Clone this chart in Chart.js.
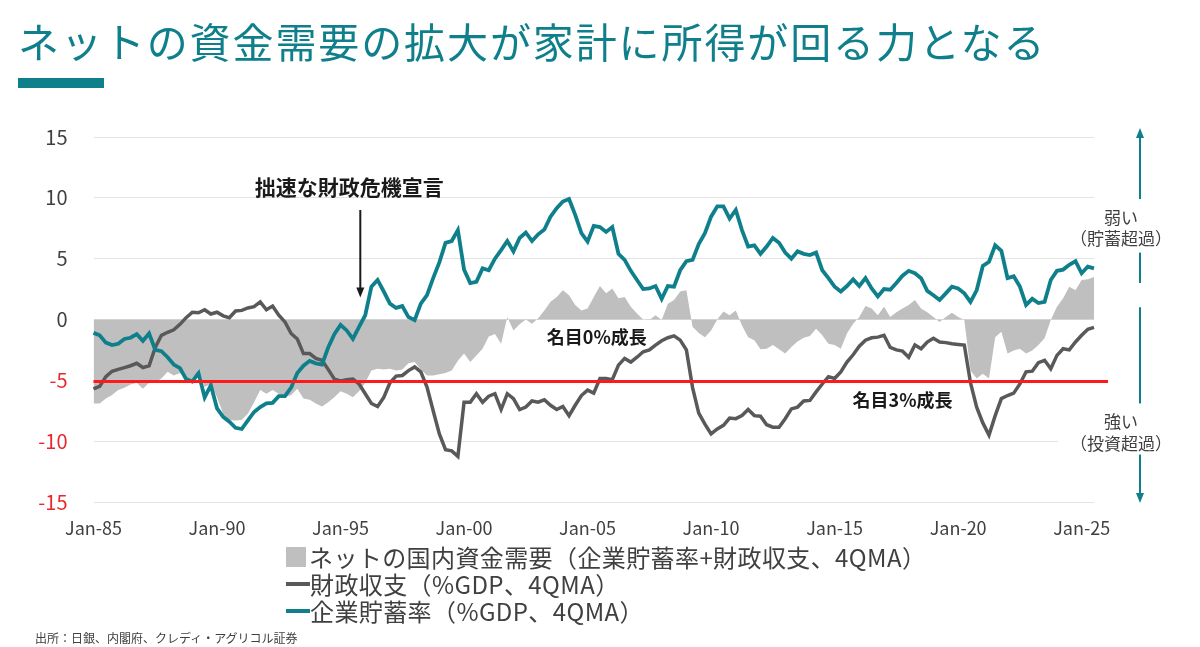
<!DOCTYPE html>
<html lang="ja">
<head>
<meta charset="utf-8">
<title>ネットの資金需要</title>
<script src="https://cdn.jsdelivr.net/npm/chart.js@4.4.1/dist/chart.umd.min.js"></script>
<style>
  body { margin: 0; background: #fff; font-family: "Noto Sans CJK JP", "Noto Sans", sans-serif; }
  #wrap { position: relative; width: 1200px; height: 647px; overflow: hidden; }
  #chart { position: absolute; left: 0; top: 0; }
  #title { position: absolute; left: 18px; top: 20px; font-size: 41px; line-height: 41px;
           letter-spacing: 1.9px; color: #0f808b; white-space: nowrap; }
  #bar { position: absolute; left: 18px; top: 78px; width: 86px; height: 10px; background: #0f808b; }
  #legend { position: absolute; left: 286px; top: 543px; font-size: 24px; line-height: 27px;
            letter-spacing: 0.4px; color: #404040; }
  #legend div { display: flex; align-items: center; white-space: nowrap; }
  #legend .box { width: 20px; height: 20px; margin-right: 3px; }
  #legend .ln { width: 24px; height: 4px; margin-right: 0px; }
  #source { position: absolute; left: 35px; top: 630px; font-size: 12px; line-height: 16px; color: #404040; }
</style>
</head>
<body>
<div id="wrap">
  <canvas id="chart" width="1200" height="647"></canvas>
  <div id="title">ネットの資金需要の拡大が家計に所得が回る力となる</div>
  <div id="bar"></div>
  <div id="legend"></div>
  <div id="source">出所：日銀、内閣府、クレディ・アグリコル証券</div>
</div>
<script>
// 四半期データ 1985Q1 - 2025Q3
// ネットの国内資金需要（企業貯蓄率+財政収支、4QMA）
const netDemand = [
  -6.9, -6.9, -6.5, -6.2, -5.8, -5.6, -5.35, -5.2, -5.7, -5.2,
  -5.15, -4.85, -4.3, -4.6, -4.4, -4.9, -5.3, -4.05, -5.55, -5.3,
  -6.4, -7.75, -8.25, -8.3, -8.25, -7.75, -6.8, -5.8, -6.1, -5.8,
  -6.1, -6.4, -6.2, -5.7, -6.5, -6.6, -6.9, -7.15, -6.8, -6.4,
  -5.9, -6.1, -6.4, -5.9, -5.2, -4.2, -4.05, -4.1, -4.05, -4.2,
  -4.1, -3.6, -3.5, -4.1, -4.6, -4.6, -4.5, -4.4, -4.2, -3.4,
  -2.8, -3.5, -2.95, -2.4, -1.4, -1.2, -2.0, 0.2, -0.9, -0.4,
  0, -0.35, 0.1, 0.75, 1.45, 1.85, 2.4, 2.0, 1.2, 0.75,
  0.9, 1.85, 2.75, 2.15, 2.55, 1.75, 1.85, 1.05, 0.5, 0,
  -0.05, 0.35, -0.05, 1.3, 1.6, 2.3, 2.4, -0.6, -1.1, -1.45,
  -0.9, 0, 0.65, 0.35, 0.75, -0.5, -1.45, -1.7, -2.45, -2.4,
  -2.1, -2.45, -2.8, -2.25, -1.8, -1.5, -1.35, -0.75, -1.3, -2.0,
  -2.1, -2.4, -1.15, -0.35, 0.2, 1.1, 0.9, 0.35, 1.05, 0.2,
  0.6, 0.9, 1.2, 1.6, 0.9, 0.6, 0.2, -0.2, 0.2, 0.55,
  0.2, -0.05, -4.2, -4.85, -4.45, -4.85, -1.45, -1.0, -2.8, -2.55,
  -2.4, -2.8, -2.55, -2.1, -1.55, -0.05, 1.05, 1.75, 2.7, 2.4,
  3.25, 3.3, 3.5
];
// 財政収支（%GDP、4QMA）
const fiscalBalance = [
  -5.7, -5.5, -4.7, -4.25, -4.1, -3.95, -3.8, -3.6, -3.95, -3.8,
  -2.3, -1.3, -1.05, -0.85, -0.4, 0.15, 0.6, 0.55, 0.8, 0.45,
  0.6, 0.3, 0.15, 0.7, 0.75, 0.95, 1.05, 1.45, 0.8, 1.1,
  0.35, -0.2, -1.15, -1.6, -2.8, -2.8, -3.2, -3.35, -4.1, -4.9,
  -5.05, -4.95, -4.9, -5.3, -6.1, -6.9, -7.15, -6.4, -5.2, -4.65,
  -4.6, -4.2, -3.9, -4.3, -5.55, -7.5, -9.4, -10.7, -10.8, -11.25,
  -6.8, -6.8, -6.1, -6.8, -6.3, -6.1, -7.4, -6.1, -6.5, -7.4,
  -7.2, -6.7, -6.8, -6.6, -7.05, -7.4, -7.15, -7.9, -7.05, -6.25,
  -5.8, -6.05, -4.85, -4.85, -4.95, -3.75, -3.2, -3.5, -3.1, -2.65,
  -2.5, -2.1, -1.75, -1.5, -1.35, -1.7, -2.5, -5.6, -7.7, -8.6,
  -9.4, -9.0, -8.7, -8.1, -8.15, -7.9, -7.4, -7.9, -7.95, -8.65,
  -8.85, -8.85, -8.15, -7.35, -7.2, -6.7, -6.65, -5.95, -5.3, -4.7,
  -4.85, -4.3, -3.5, -2.9, -2.2, -1.7, -1.5, -1.45, -1.3, -2.3,
  -2.5, -2.6, -3.1, -2.1, -2.4, -1.85, -1.55, -1.85, -1.9, -2.0,
  -2.05, -2.1, -5.2, -7.2, -8.5, -9.5, -7.9, -6.5, -6.25, -6.05,
  -5.3, -4.3, -4.25, -3.55, -3.35, -4.05, -2.95, -2.4, -2.5, -1.85,
  -1.3, -0.8, -0.65
];
// 企業貯蓄率（%GDP、4QMA）
const corpSavings = [
  -1.1, -1.3, -1.9, -2.1, -2.0, -1.6, -1.5, -1.2, -1.75, -1.15,
  -2.5, -2.6, -3.1, -3.7, -4.0, -4.9, -5.1, -4.4, -6.4, -5.4,
  -7.3, -8.0, -8.4, -8.9, -9.0, -8.3, -7.6, -7.2, -6.9, -6.85,
  -6.3, -6.3, -5.6, -4.4, -3.8, -3.4, -3.6, -3.7, -2.3, -1.2,
  -0.45, -0.9, -1.6, -0.6, 0.35, 2.7, 3.25, 2.3, 1.3, 0.95,
  1.1, 0.2, -0.05, 1.3, 2.0, 3.4, 4.7, 6.3, 6.45, 7.35,
  4.1, 3.0, 3.1, 4.2, 4.05, 5.0, 5.7, 6.45, 5.6, 6.7,
  7.15, 6.45, 7.0, 7.4, 8.45, 9.15, 9.7, 9.9, 8.6, 7.1,
  6.4, 7.7, 7.6, 7.2, 7.6, 5.4, 4.9, 4.0, 3.25, 2.5,
  2.55, 2.75, 1.7, 2.75, 2.7, 4.05, 4.8, 4.9, 6.2, 7.1,
  8.45, 9.3, 9.3, 8.3, 9.0, 7.35, 6.0, 6.1, 5.4, 6.0,
  6.7, 6.3, 5.5, 5.0, 5.6, 5.4, 5.3, 5.5, 4.05, 3.4,
  2.7, 2.3, 2.75, 3.3, 2.75, 3.4, 2.55, 1.9, 2.5, 2.45,
  3.0, 3.6, 4.0, 3.8, 3.4, 2.35, 2.0, 1.6, 2.15, 2.7,
  2.55, 2.15, 1.45, 2.4, 4.4, 4.75, 6.1, 5.65, 3.4, 3.55,
  2.7, 1.2, 1.7, 1.35, 1.45, 3.25, 4.0, 4.1, 4.5, 4.8,
  3.8, 4.35, 4.2
];

// 軸ラベル
const xTickLabels = ['Jan-85', 'Jan-90', 'Jan-95', 'Jan-00', 'Jan-05', 'Jan-10', 'Jan-15', 'Jan-20', 'Jan-25'];
const yMin = -15, yMax = 15, yStep = 5;
const nominal3Line = -5.1; // 名目3%成長ライン

// 四半期カテゴリ
const monthNames = ['Jan', 'Apr', 'Jul', 'Oct'];
const quarters = [];
for (let i = 0; i < corpSavings.length; i++) {
  const yr = 1985 + Math.floor(i / 4);
  quarters.push(monthNames[i % 4] + '-' + String(yr % 100).padStart(2, '0'));
}

const TEAL = '#0f808b', DGRAY = '#595959', LGRAY = '#bfbfbf', RED = '#ff1a1a';
Chart.defaults.font.family = '"Noto Sans CJK JP", "Noto Sans", sans-serif';

// 注記テキスト（位置はインデックスと値で指定）
const notes = [
  { text: '拙速な財政危機宣言', idx: 41.4, val: 10.9, size: 21 },
  { text: '名目0%成長', idx: 81.5, val: -1.46, size: 18 },
  { text: '名目3%成長', idx: 131.0, val: -6.65, size: 18 }
];

function arrowHead(ctx, x, y, dir) {
  ctx.beginPath();
  ctx.moveTo(x, y);
  ctx.lineTo(x - 4, y - dir * 10);
  ctx.lineTo(x + 4, y - dir * 10);
  ctx.closePath();
  ctx.fill();
}

const overlayPlugin = {
  id: 'overlay',
  afterDatasetsDraw(chart) {
    const { ctx, chartArea: a, scales: { y } } = chart;
    const ry = y.getPixelForValue(nominal3Line);
    ctx.save();
    ctx.strokeStyle = RED;
    ctx.lineWidth = 3;
    ctx.beginPath();
    ctx.moveTo(a.left, ry);
    ctx.lineTo(a.right + 14, ry);
    ctx.stroke();
    ctx.restore();
  },
  afterDraw(chart) {
    const { ctx, chartArea: a, scales: { x, y } } = chart;
    ctx.save();
    // 注記
    ctx.fillStyle = '#1a1a1a';
    ctx.textAlign = 'center';
    ctx.textBaseline = 'middle';
    notes.forEach(n => {
      ctx.font = 'bold ' + n.size + 'px "Noto Sans CJK JP"';
      ctx.fillText(n.text, x.getPixelForValue(n.idx), y.getPixelForValue(n.val));
    });
    // 矢印（財政危機宣言）
    const ax = x.getPixelForValue(43.2);
    const top = y.getPixelForValue(9.0), tip = y.getPixelForValue(1.81);
    ctx.strokeStyle = '#1a1a1a';
    ctx.lineWidth = 2;
    ctx.beginPath();
    ctx.moveTo(ax, top);
    ctx.lineTo(ax, tip - 8);
    ctx.stroke();
    arrowHead(ctx, ax, tip, 1);

    // 右側の矢印
    const rx = a.right + 46;
    ctx.strokeStyle = TEAL;
    ctx.fillStyle = TEAL;
    ctx.lineWidth = 2;
    const upFrom = y.getPixelForValue(3.0), upTo = a.top - 9;
    const dnFrom = y.getPixelForValue(1.0), dnTo = a.bottom + 1;
    ctx.beginPath();
    ctx.moveTo(rx, upFrom); ctx.lineTo(rx, upTo + 8);
    ctx.moveTo(rx, dnFrom); ctx.lineTo(rx, dnTo - 8);
    ctx.stroke();
    arrowHead(ctx, rx, upTo, -1);
    arrowHead(ctx, rx, dnTo, 1);

    // 右側ラベル
    ctx.fillStyle = '#fff';
    ctx.fillRect(a.right - 36, y.getPixelForValue(9.9), 132, y.getPixelForValue(5.5) - y.getPixelForValue(9.9));
    ctx.fillRect(a.right - 36, y.getPixelForValue(-6.9), 132, y.getPixelForValue(-11.1) - y.getPixelForValue(-6.9));
    ctx.fillStyle = '#404040';
    ctx.font = '17px "Noto Sans CJK JP"';
    const lx = a.right + 27;
    ctx.fillText('弱い', lx, y.getPixelForValue(8.4));
    ctx.fillText('（貯蓄超過）', lx, y.getPixelForValue(6.66));
    ctx.fillText('強い', lx, y.getPixelForValue(-8.38));
    ctx.fillText('（投資超過）', lx, y.getPixelForValue(-10.16));
    ctx.restore();
  }
};

const chart = new Chart(document.getElementById('chart'), {
  type: 'line',
  data: {
    labels: quarters,
    datasets: [
      { label: '企業貯蓄率（%GDP、4QMA）', data: corpSavings, borderColor: TEAL, borderWidth: 3.8,
        pointRadius: 0, fill: false, order: 0, legendBox: 'line' },
      { label: '財政収支（%GDP、4QMA）', data: fiscalBalance, borderColor: DGRAY, borderWidth: 3.5,
        pointRadius: 0, fill: false, order: 1, legendBox: 'line' },
      { label: 'ネットの国内資金需要（企業貯蓄率+財政収支、4QMA）', data: netDemand, borderWidth: 0,
        borderColor: LGRAY, backgroundColor: LGRAY, pointRadius: 0, fill: 'origin', order: 2, legendBox: 'box' }
    ]
  },
  options: {
    responsive: false,
    animation: false,
    layout: { padding: { top: 137, right: 106, bottom: 105, left: 0 } },
    plugins: { legend: { display: false }, tooltip: { enabled: false } },
    elements: { line: { tension: 0 } },
    scales: {
      x: {
        grid: { display: false, drawTicks: false },
        border: { display: false },
        afterFit(s) { s.height = 40; },
        ticks: {
          autoSkip: false, maxRotation: 0, minRotation: 0, padding: 15,
          color: '#404040', font: { size: 18 },
          callback(v) {
            const l = this.getLabelForValue(v);
            return xTickLabels.includes(l) ? l : '';
          }
        }
      },
      y: {
        min: yMin, max: yMax,
        grid: { color: '#e4e4e4', lineWidth: 1, drawTicks: false },
        border: { display: false },
        afterFit(s) { s.width = 93.5; },
        ticks: {
          stepSize: yStep, padding: 26, font: { size: 20 },
          color: c => (c.tick && c.tick.value < 0) ? '#e8282e' : '#404040'
        }
      }
    }
  },
  plugins: [overlayPlugin]
});

// 凡例（HTML）
const legendEl = document.getElementById('legend');
[2, 1, 0].forEach(i => {
  const ds = chart.data.datasets[i];
  const row = document.createElement('div');
  const mk = document.createElement('span');
  mk.className = ds.legendBox === 'box' ? 'box' : 'ln';
  mk.style.background = ds.legendBox === 'box' ? ds.backgroundColor : ds.borderColor;
  const tx = document.createElement('span');
  tx.textContent = ds.label;
  row.appendChild(mk);
  row.appendChild(tx);
  legendEl.appendChild(row);
});
</script>
</body>
</html>
